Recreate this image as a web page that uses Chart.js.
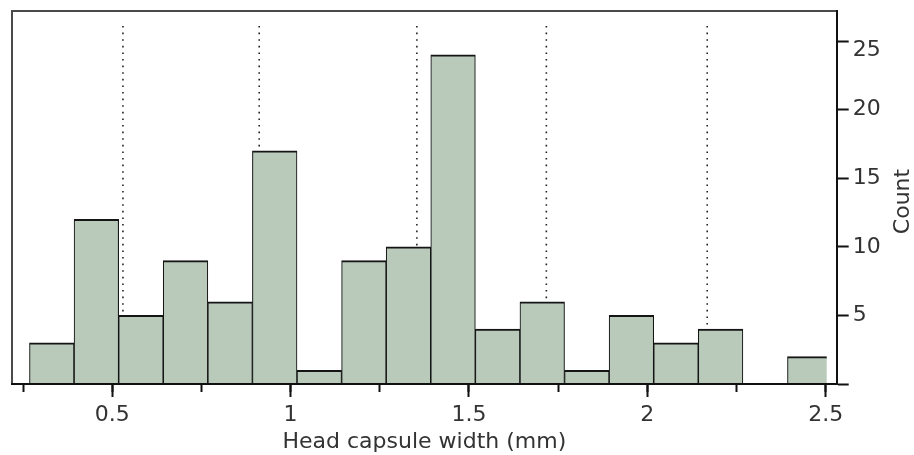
<!DOCTYPE html>
<html>
<head>
<meta charset="utf-8">
<script src="https://cdn.jsdelivr.net/npm/chart.js@4/dist/chart.umd.min.js"></script>
<style>
  html, body { margin: 0; padding: 0; background: #ffffff; }
  canvas { display: block; }
</style>
</head>
<body>
<canvas id="c" width="914" height="455"></canvas>
<script>
// ---- data ----
const binStart = 0.268;
const binWidth = 0.125;
const counts = [3, 12, 5, 9, 6, 17, 1, 9, 10, 24, 4, 6, 1, 5, 3, 4, 0, 2];
const instarBoundaries = [0.530, 0.912, 1.354, 1.717, 2.168];
const boundaryTop = 26.3;
const xRange = [0.219, 2.531];
const yRange = [0, 27.2];
const xMinorTicks = [0.25, 0.75, 1.25, 1.75, 2.25];
const xMajorTicks = [0.5, 1, 1.5, 2, 2.5];
const yTicks = [0, 5, 10, 15, 20, 25];
const xTitle = 'Head capsule width (mm)';
const yTitle = 'Count';

// ---- build ----
const barData = counts.map((c, i) => ({ x: binStart + binWidth * (i + 0.5), y: c }));
const allXTicks = xMinorTicks.concat(xMajorTicks).sort((a, b) => a - b);
const isMajor = v => xMajorTicks.some(m => Math.abs(m - v) < 1e-9);

const textColor = '#333333';
const axisColor = '#111111';
const frameColor = '#4a4a4a';
const font = { family: '"DejaVu Sans", sans-serif', size: 22 };
const noPad = s => { s.paddingTop = 0; s.paddingBottom = 0; s.paddingLeft = 0; s.paddingRight = 0; };

const datasets = [{
  type: 'bar',
  data: barData,
  backgroundColor: '#b9cabb',
  borderColor: '#151515',
  borderWidth: { top: 2, left: 1.1, right: 1.1, bottom: 0 },
  borderSkipped: 'start',
  barPercentage: 1,
  categoryPercentage: 1,
  xAxisID: 'x',
  yAxisID: 'y',
  order: 0,
  clip: { left: 0, top: 0, right: -10, bottom: 0 }
}];
instarBoundaries.forEach(b => {
  datasets.push({
    type: 'line',
    data: [{ x: b, y: 0 }, { x: b, y: boundaryTop }],
    borderColor: '#222222',
    borderWidth: 1.6,
    borderDash: [1.6, 5],
    pointRadius: 0,
    fill: false,
    xAxisID: 'x',
    yAxisID: 'y',
    order: 1
  });
});

const rotatedYTitle = {
  id: 'rotatedYTitle',
  afterDraw(chart) {
    const s = chart.scales.y;
    const ctx = chart.ctx;
    const ca = chart.chartArea;
    ctx.save();
    ctx.font = '22px "DejaVu Sans", sans-serif';
    ctx.fillStyle = textColor;
    ctx.textAlign = 'center';
    ctx.textBaseline = 'middle';
    ctx.translate(s.right - 11, (ca.top + ca.bottom) / 2 + 4);
    ctx.rotate(-Math.PI / 2);
    ctx.fillText(s.options.title.text, 0, 0);
    ctx.restore();
  }
};

new Chart(document.getElementById('c'), {
  type: 'bar',
  data: { datasets },
  plugins: [rotatedYTitle],
  options: {
    responsive: false,
    devicePixelRatio: 1,
    animation: false,
    events: [],
    layout: { padding: { left: 12, top: 11, right: 0, bottom: 0 } },
    plugins: { legend: { display: false }, tooltip: { enabled: false } },
    scales: {
      x: {
        type: 'linear', axis: 'x', position: 'bottom',
        min: xRange[0], max: xRange[1], offset: false,
        afterBuildTicks: s => { s.ticks = allXTicks.map(v => ({ value: v })); },
        afterFit: s => { s.height = 71; noPad(s); },
        grid: { display: true, drawOnChartArea: false, drawTicks: true, offset: false,
                tickLength: 8, tickWidth: 2, tickColor: axisColor },
        border: { display: true, color: axisColor, width: 2, z: 1 },
        ticks: { autoSkip: false, maxRotation: 0, includeBounds: false, padding: 10,
                 color: textColor, font,
                 callback: v => isMajor(v) ? String(+v.toFixed(2)) : '' },
        title: { display: true, text: xTitle, color: textColor, font,
                 padding: { top: 0, bottom: 0 } }
      },
      xMajor: {
        type: 'linear', axis: 'x', position: { y: 0 },
        min: xRange[0], max: xRange[1], offset: false,
        afterBuildTicks: s => { s.ticks = xMajorTicks.map(v => ({ value: v })); },
        afterFit: s => { noPad(s); },
        grid: { display: true, drawOnChartArea: false, drawTicks: true, offset: false,
                tickLength: 13, tickWidth: 2, tickColor: axisColor },
        border: { display: false },
        ticks: { display: false, includeBounds: false }
      },
      xTop: {
        type: 'linear', axis: 'x', position: 'top',
        min: xRange[0], max: xRange[1], offset: false,
        afterFit: s => { s.height = 0; noPad(s); },
        grid: { display: false, drawTicks: false, offset: false },
        border: { display: true, color: frameColor, width: 2 },
        ticks: { display: false }
      },
      y: {
        type: 'linear', axis: 'y', position: 'right',
        min: yRange[0], max: yRange[1],
        afterBuildTicks: s => { s.ticks = yTicks.map(v => ({ value: v })); },
        afterFit: s => { s.width = 914 - 836.7; noPad(s); },
        grid: { display: true, drawOnChartArea: false, drawTicks: true,
                tickLength: 12, tickWidth: 2, tickColor: axisColor },
        border: { display: true, color: axisColor, width: 2 },
        ticks: { padding: 4, color: textColor,
                 font: { family: '"DejaVu Sans", sans-serif', size: 22, lineHeight: 0.85 },
                 callback: v => v === 0 ? '' : (v === yTicks[yTicks.length - 1] ? ['', String(v)] : String(v)) },
        title: { display: false, text: yTitle }
      },
      yLeft: {
        type: 'linear', axis: 'y', position: 'left',
        min: yRange[0], max: yRange[1],
        afterFit: s => { s.width = 0; noPad(s); },
        grid: { display: false, drawTicks: false },
        border: { display: true, color: frameColor, width: 2 },
        ticks: { display: false }
      }
    }
  }
});
</script>
</body>
</html>
